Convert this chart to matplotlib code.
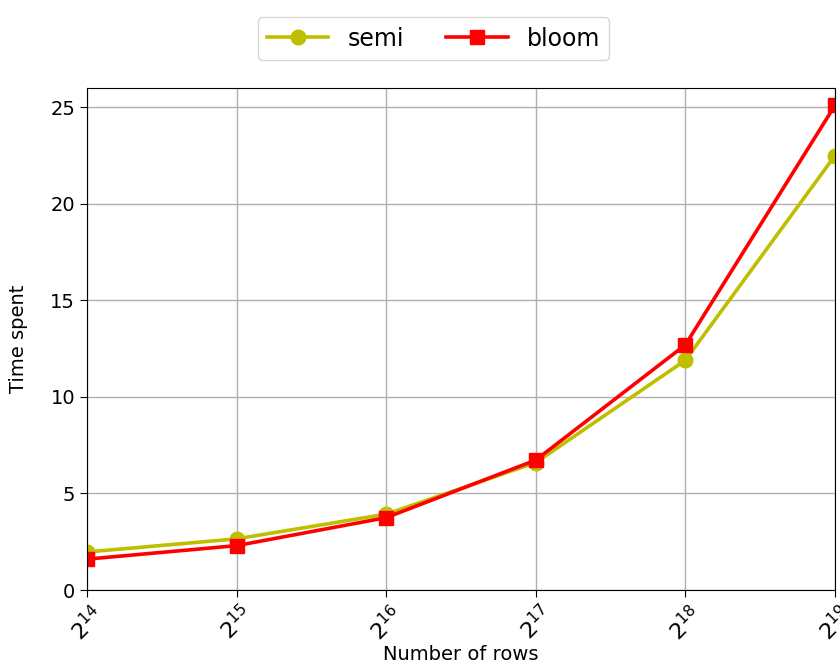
import matplotlib
matplotlib.use("Agg")
import matplotlib.pyplot as plt

# Rows processed (powers of two) and timings for each join strategy
rows_exp = [14, 15, 16, 17, 18, 19]
rows = [2 ** e for e in rows_exp]
semi_time = [1.97, 2.65, 3.93, 6.6, 11.9, 22.5]
bloom_time = [1.6, 2.3, 3.75, 6.73, 12.7, 25.1]
tick_labels = [f"$2^{{{e}}}$" for e in rows_exp]

fig = plt.figure(figsize=(8.4, 6.67), dpi=100)
ax = fig.add_axes([0.1036, 0.1154, 0.8904, 0.7526])

ax.plot(rows, semi_time, color="y", marker="o", linewidth=2.6,
        markersize=10.5, label="semi")
ax.plot(rows, bloom_time, color="r", marker="s", linewidth=2.6,
        markersize=9.5, label="bloom")

ax.set_xscale("log", base=2)
ax.set_xlim(rows[0], rows[-1])
ax.set_ylim(0, 26)
ax.set_xticks(rows)
ax.set_xticklabels(tick_labels, rotation=45)
ax.minorticks_off()
ax.set_yticks([0, 5, 10, 15, 20, 25])
ax.tick_params(axis="both", labelsize=14, length=5)
ax.tick_params(axis="x", labelsize=16)
ax.grid(True, color="#b0b0b0", linewidth=1)
ax.set_axisbelow(True)

ax.set_xlabel("Number of rows", fontsize=14, labelpad=0)
ax.set_ylabel("Time spent", fontsize=14, labelpad=16)

fig.legend(loc="upper center", bbox_to_anchor=(0.516, 0.992), ncol=2,
           fontsize=17, handlelength=2.6, columnspacing=1.8)

fig.savefig("out.png", dpi=100)
